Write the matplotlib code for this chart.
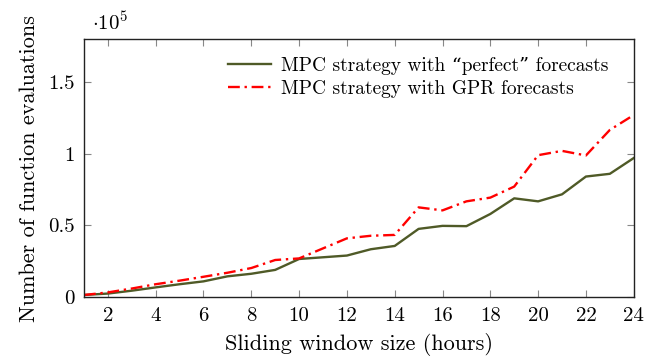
import matplotlib
matplotlib.use("Agg")
import matplotlib.pyplot as plt
from matplotlib.ticker import FuncFormatter

plt.rcParams['font.family'] = ['cmr10', 'DejaVu Serif']
plt.rcParams['mathtext.fontset'] = 'cm'
plt.rcParams['axes.unicode_minus'] = False

hours = list(range(1, 25))
perfect = [0.015, 0.025, 0.045, 0.068, 0.09, 0.11, 0.145, 0.163, 0.19, 0.266, 0.278, 0.29,
           0.334, 0.357, 0.476, 0.497, 0.495, 0.58, 0.689, 0.668, 0.717, 0.841, 0.86, 0.97]
gpr = [0.015, 0.033, 0.06, 0.09, 0.115, 0.142, 0.17, 0.203, 0.259, 0.27, 0.34, 0.41,
       0.428, 0.434, 0.626, 0.605, 0.668, 0.694, 0.771, 0.99, 1.02, 0.988, 1.166, 1.27]
scale = 1e5
perfect_vals = [v * scale for v in perfect]
gpr_vals = [v * scale for v in gpr]

fig = plt.figure(figsize=(6.46, 3.58), dpi=100)
ax = fig.add_axes([0.130, 0.170, 0.851, 0.721])

ax.plot(hours, perfect_vals, color='#4f5a27', lw=1.7, label='MPC strategy with \u201cperfect\u201d forecasts')
ax.plot(hours, gpr_vals, color='#ff0000', lw=1.7, linestyle=(0, (5, 2, 1, 2)), label='MPC strategy with GPR forecasts')

ax.set_xlim(1, 24)
ax.set_ylim(0, 1.8e5)
ax.set_xticks(range(2, 25, 2))
ax.set_yticks([0, 0.5e5, 1e5, 1.5e5])
ax.yaxis.set_major_formatter(FuncFormatter(lambda v, p: '0' if v == 0 else ('%g' % (v / scale))))
ax.tick_params(direction='in', top=True, right=True, length=5, width=0.8, color='#888888', labelsize=15, pad=7)
for s in ax.spines.values():
    s.set_linewidth(1.0)
    s.set_color('#222222')

ax.set_xlabel('Sliding window size (hours)', fontsize=16, labelpad=6)
ax.set_ylabel('Number of function evaluations', fontsize=16, labelpad=6)
ax.text(0.015, 1.02, r'$\cdot 10^5$', transform=ax.transAxes, fontsize=15, ha='left', va='bottom')

leg = ax.legend(loc='upper right', frameon=False, fontsize=14, handlelength=2.2, handletextpad=0.5,
                bbox_to_anchor=(0.975, 0.975), labelspacing=0.25, borderaxespad=0.2)

fig.savefig('out.png', dpi=100)
